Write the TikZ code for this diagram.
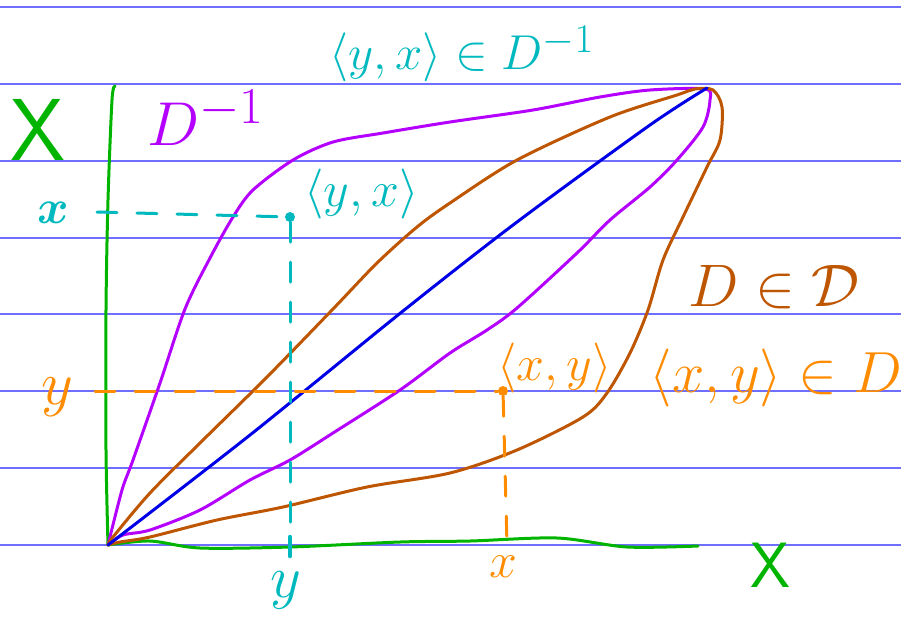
\documentclass[tikz,border=0pt]{standalone}
\usetikzlibrary{positioning,calc}
\definecolor{rulecol}{RGB}{110,110,255}
\definecolor{axiscol}{RGB}{0,180,0}
\definecolor{invcol}{RGB}{180,0,255}
\definecolor{relcol}{RGB}{190,85,0}
\definecolor{diagcol}{RGB}{0,0,230}
\definecolor{tealcol}{RGB}{0,185,190}
\definecolor{orangecol}{RGB}{255,140,0}
\def\penwidth{3pt}

\begin{document}
\begin{tikzpicture}[x=1pt,y=-1pt,
  pen/.style={line width=\penwidth,line cap=round,line join=round},
  guide/.style={pen,dash pattern=on 20pt off 20pt},
  dot/.style={circle,inner sep=0pt,minimum size=10pt},
  lbl/.style={inner sep=0pt,font=\Huge,scale={#1/24.88}}]

\useasboundingbox (0,0) rectangle (901,619);

% ruled paper
\foreach \yy in {7,84,161,238,314,391,468,545}
  \draw[rulecol,line width=1.4pt] (0,\yy) -- (901,\yy);

\coordinate (O) at (108,545);
\coordinate (T) at (707,88);

% axes
\draw[pen,axiscol] plot[smooth,tension=0.5] coordinates {(O) (106,450) (106,310) (108,200) (112,100) (115,86)};
\draw[pen,axiscol] plot[smooth,tension=0.5] coordinates {(O) (150,541) (200,548) (290,547) (400,542) (470,541) (557,538) (627,547) (698,546)};
\node[lbl=88,axiscol] (Xv) at (38,130) {\sffamily X};
\node[lbl=64,axiscol] (Xh) at (770,565) {\sffamily X};

% D and its inverse
\draw[pen,invcol] plot[smooth,tension=0.5] coordinates {(O) (122,490) (133,460) (160,383) (185,309) (210,258) (233,217) (253,190) (293,160) (333,142) (383,133) (450,122) (533,110) (600,97) (650,90) (705,89) (710,100) (703,127) (677,160) (650,187) (610,220) (577,253) (517,308) (487,330) (450,353) (400,390) (333,433) (290,460) (250,480) (200,510) (150,530) (123,535) (O)};
\draw[pen,relcol] plot[smooth,tension=0.5] coordinates {(O) (113,537) (150,493) (200,443) (267,377) (333,309) (377,263) (417,227) (450,203) (517,160) (610,117) (677,95) (695,89) (713,90) (722,107) (720,140) (707,167) (683,217) (663,260) (648,310) (630,353) (607,393) (583,417) (517,450) (450,473) (367,487) (283,507) (217,520) (150,537) (120,542) (O)};
\draw[pen,diagcol] plot[smooth,tension=0.5] coordinates {(O) (250,435) (403,311) (517,222) (650,125) (T)};

\node[lbl=62,invcol] (Dinv) at (206,118) {$D^{-1}$};
\node[lbl=60,relcol] (DinD) at (774,287) {$D\in\mathcal{D}$};

% the point <y,x>
\node[dot,fill=tealcol] (pyx) at (290,217) {};
\coordinate (yxL) at (97,212);
\coordinate (yxB) at (290,556);
\draw[guide,tealcol] (yxL) -- (pyx);
\draw[guide,tealcol] (pyx) -- (yxB);
\draw[pen,tealcol,line width=4.5pt] (290,537) -- (yxB);
\node[lbl=48,tealcol,font=\Huge\boldmath] (xv) at (53,213) {$x$};
\node[lbl=60,tealcol] (yh) at (286,590) {$y$};
\node[lbl=50,tealcol,anchor=south west] (lyx) at ($ (pyx) + (14,2) $) {$\langle y,x\rangle$};
\node[lbl=49,tealcol] (lyxD) at (462,54) {$\langle y,x\rangle\in D^{-1}$};

% the point <x,y>
\node[dot,fill=orangecol] (pxy) at (503,391) {};
\coordinate (xyL) at (95,391);
\coordinate (xyB) at (507,545);
\draw[guide,orangecol] (xyL) -- (pxy);
\draw[guide,orangecol] (pxy) -- (xyB);
\node[lbl=62,orangecol] (yv) at (57,397) {$y$};
\node[lbl=50,orangecol] (xh) at (503,567) {$x$};
\node[lbl=50,orangecol,anchor=south west] (lxy) at ($ (pxy) + (-6,2) $) {$\langle x,y\rangle$};
\node[lbl=58,orangecol] (lxyD) at (776,378) {$\langle x,y\rangle\in D$};

\end{tikzpicture}
\end{document}
